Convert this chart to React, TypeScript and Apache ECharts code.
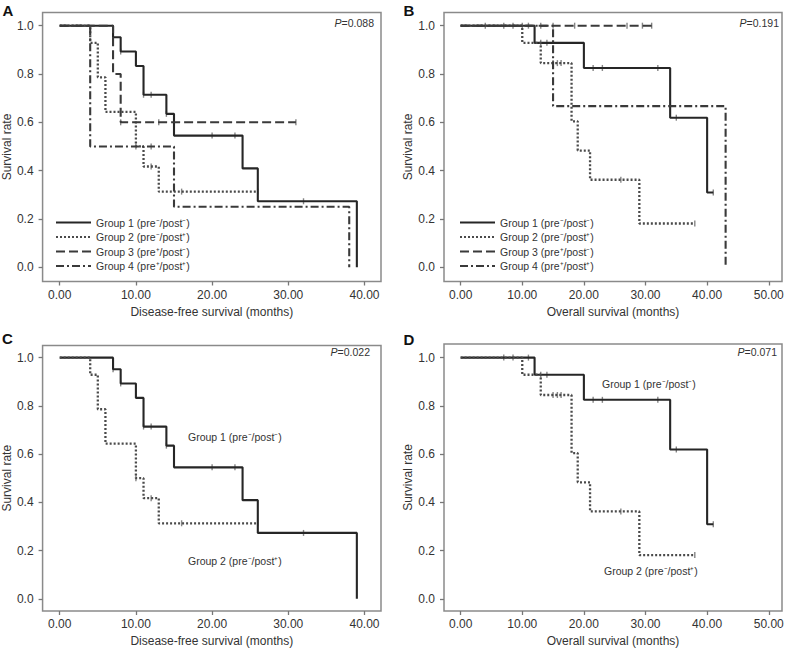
import React, { useEffect, useRef } from "react";
import * as echarts from "echarts";

// ---------- Data ----------
// Disease-free survival (panels A and C)
const dfsG1Times = [0, 7, 8, 10, 11, 14, 15, 24, 26, 39];
const dfsG1Surv = [1, 0.952, 0.893, 0.833, 0.714, 0.635, 0.545, 0.409, 0.273, 0];
const dfsG1CensorTimes = [7, 8, 11, 12, 14, 20, 23, 32];
const dfsG1CensorSurv = [0.952, 0.893, 0.714, 0.714, 0.635, 0.545, 0.545, 0.273];

const dfsG2Times = [0, 4, 5, 6, 10, 11, 13, 26];
const dfsG2Surv = [1, 0.929, 0.786, 0.643, 0.5, 0.417, 0.313, 0.313];
const dfsG2CensorTimes = [10, 12, 16, 26];
const dfsG2CensorSurv = [0.5, 0.417, 0.313, 0.313];

const dfsG3Times = [0, 7, 8, 31];
const dfsG3Surv = [1, 0.8, 0.6, 0.6];
const dfsG3CensorTimes = [8, 13, 31];
const dfsG3CensorSurv = [0.6, 0.6, 0.6];

const dfsG4Times = [0, 4, 15, 38];
const dfsG4Surv = [1, 0.5, 0.25, 0];
const dfsG4CensorTimes = [12];
const dfsG4CensorSurv = [0.5];

// Overall survival (panels B and D)
const osG1Times = [0, 12, 20, 34, 40, 41];
const osG1Surv = [1, 0.929, 0.825, 0.619, 0.309, 0.309];
const osG1CensorTimes = [7, 8.5, 11, 13, 14, 21.5, 23, 32, 35, 41];
const osG1CensorSurv = [1, 1, 1, 0.929, 0.929, 0.825, 0.825, 0.825, 0.619, 0.309];

const osG2Times = [0, 10, 13, 18, 19, 21, 29, 38];
const osG2Surv = [1, 0.929, 0.845, 0.604, 0.483, 0.362, 0.181, 0.181];
const osG2CensorTimes = [15, 15.7, 16.3, 26, 38];
const osG2CensorSurv = [0.845, 0.845, 0.845, 0.362, 0.181];

const osG3Times = [0, 31];
const osG3Surv = [1, 1];
const osG3CensorTimes = [4, 10, 13, 15, 18.5, 27, 29.5, 31];
const osG3CensorSurv = [1, 1, 1, 1, 1, 1, 1, 1];

const osG4Times = [0, 15, 43];
const osG4Surv = [1, 0.667, 0];

const groupNames = [
  "Group 1 (pre\u207B/post\u207B)",
  "Group 2 (pre\u207B/post\u207A)",
  "Group 3 (pre\u207A/post\u207B)",
  "Group 4 (pre\u207A/post\u207A)",
];

const dfsTicks = [0, 10, 20, 30, 40];
const osTicks = [0, 10, 20, 30, 40, 50];
const yTicks = [0, 0.2, 0.4, 0.6, 0.8, 1.0];

const pValues = ["0.088", "0.191", "0.022", "0.071"];
const panelLetters = ["A", "B", "C", "D"];

// ---------- Styling ----------
const FONT = "Liberation Sans, Arial, Helvetica, sans-serif";
const TEXT = "#333";
const lineStyles = [
  { color: "#262626", width: 2.1, type: "solid" as any },
  { color: "#4a4a4a", width: 2.3, type: [2, 2] as any },
  { color: "#3a3a3a", width: 2.1, type: [9, 4] as any },
  { color: "#3a3a3a", width: 2.1, type: [8, 3, 2, 3] as any },
];

const zip = (t: number[], s: number[]) => t.map((v, i) => [v, s[i]]);

export default function App() {
  const ref = useRef<HTMLDivElement>(null);

  useEffect(() => {
    if (!ref.current) return;
    const chart = echarts.init(ref.current, undefined, { renderer: "svg" });

    const grids = [
      { left: 40, top: 12.5, width: 341, height: 269 },
      { left: 444, top: 12.5, width: 338, height: 269 },
      { left: 40, top: 345.5, width: 341, height: 267 },
      { left: 444, top: 344, width: 338, height: 268 },
    ].map((g) => ({
      ...g,
      show: true,
      borderColor: "#8a8a8a",
      borderWidth: 1.5,
      backgroundColor: "transparent",
    }));

    const xRanges = [
      [-2.25, 42.17],
      [-2.7, 52.15],
      [-2.25, 42.17],
      [-2.7, 52.15],
    ];
    const yRanges = [
      [-0.0592, 1.0546],
      [-0.0592, 1.0546],
      [-0.0508, 1.0503],
      [-0.0508, 1.0565],
    ];
    const xNames = [
      "Disease-free survival (months)",
      "Overall survival (months)",
      "Disease-free survival (months)",
      "Overall survival (months)",
    ];

    const xAxis = [0, 1, 2, 3].map((i) => {
      const ticks = i % 2 === 0 ? dfsTicks : osTicks;
      return {
        type: "value",
        gridIndex: i,
        min: xRanges[i][0],
        max: xRanges[i][1],
        axisLine: { show: false, onZero: false },
        splitLine: { show: false },
        axisTick: {
          show: true,
          length: 4,
          customValues: ticks,
          lineStyle: { color: "#777", width: 1.3 },
        },
        axisLabel: {
          customValues: ticks,
          formatter: (v: number) => v.toFixed(2),
          fontSize: 12,
          color: TEXT,
          fontFamily: FONT,
          margin: 7,
        },
        name: xNames[i],
        nameLocation: "middle",
        nameGap: 24,
        nameTextStyle: { fontSize: 12, color: TEXT, fontFamily: FONT },
      };
    });

    const yAxis = [0, 1, 2, 3].map((i) => ({
      type: "value",
      gridIndex: i,
      min: yRanges[i][0],
      max: yRanges[i][1],
      axisLine: { show: false, onZero: false },
      splitLine: { show: false },
      axisTick: {
        show: true,
        length: 4,
        customValues: yTicks,
        lineStyle: { color: "#777", width: 1.3 },
      },
      axisLabel: {
        customValues: yTicks,
        formatter: (v: number) => v.toFixed(1),
        fontSize: 12,
        color: TEXT,
        fontFamily: FONT,
        margin: 9,
      },
      name: "Survival rate",
      nameLocation: "middle",
      nameGap: 29,
      nameTextStyle: { fontSize: 12, color: TEXT, fontFamily: FONT },
    }));

    const series: any[] = [];
    const addCurve = (
      panel: number,
      g: number,
      t: number[],
      s: number[],
      ct?: number[],
      cs?: number[]
    ) => {
      series.push({
        type: "line",
        name: groupNames[g],
        xAxisIndex: panel,
        yAxisIndex: panel,
        step: "end",
        symbol: "none",
        data: zip(t, s),
        lineStyle: lineStyles[g],
        itemStyle: { color: lineStyles[g].color },
        silent: true,
      });
      if (ct && cs) {
        series.push({
          type: "scatter",
          name: `censor-${panel}-${g}`,
          xAxisIndex: panel,
          yAxisIndex: panel,
          symbol: "rect",
          symbolSize: [1.4, 6],
          data: zip(ct, cs),
          itemStyle: { color: "#666" },
          silent: true,
        });
      }
    };

    // Panel A
    addCurve(0, 0, dfsG1Times, dfsG1Surv, dfsG1CensorTimes, dfsG1CensorSurv);
    addCurve(0, 1, dfsG2Times, dfsG2Surv, dfsG2CensorTimes, dfsG2CensorSurv);
    addCurve(0, 2, dfsG3Times, dfsG3Surv, dfsG3CensorTimes, dfsG3CensorSurv);
    addCurve(0, 3, dfsG4Times, dfsG4Surv, dfsG4CensorTimes, dfsG4CensorSurv);
    // Panel B
    addCurve(1, 0, osG1Times, osG1Surv, osG1CensorTimes, osG1CensorSurv);
    addCurve(1, 1, osG2Times, osG2Surv, osG2CensorTimes, osG2CensorSurv);
    addCurve(1, 2, osG3Times, osG3Surv, osG3CensorTimes, osG3CensorSurv);
    addCurve(1, 3, osG4Times, osG4Surv);
    // Panel C
    addCurve(2, 0, dfsG1Times, dfsG1Surv, dfsG1CensorTimes, dfsG1CensorSurv);
    addCurve(2, 1, dfsG2Times, dfsG2Surv, dfsG2CensorTimes, dfsG2CensorSurv);
    // Panel D
    addCurve(3, 0, osG1Times, osG1Surv, osG1CensorTimes, osG1CensorSurv);
    addCurve(3, 1, osG2Times, osG2Surv, osG2CensorTimes, osG2CensorSurv);

    const legendBase = {
      data: groupNames,
      orient: "vertical",
      itemWidth: 35,
      itemHeight: 10,
      itemGap: 3.5,
      selectedMode: false,
      itemStyle: { opacity: 0 },
      textStyle: { fontSize: 10.5, color: TEXT, fontFamily: FONT, lineHeight: 10, padding: [0, 0, 0, 0] },
      padding: 0,
    };

    const pPos = [
      [374, 22.5],
      [779, 22.5],
      [370, 352],
      [777, 352],
    ];
    const letterPos = [
      [2.5, 10],
      [403.5, 10],
      [2, 338.5],
      [403.5, 339.5],
    ];

    const graphic: any[] = [];
    pValues.forEach((p, i) => {
      graphic.push({
        type: "text",
        x: pPos[i][0],
        y: pPos[i][1],
        style: {
          text: `{i|P}=${p}`,
          fontSize: 10.5,
          fontFamily: FONT,
          fill: TEXT,
          align: "right",
          verticalAlign: "middle",
          rich: {
            i: { fontStyle: "italic", fontSize: 10.5, fontFamily: FONT, fill: TEXT },
          },
        },
        silent: true,
      });
    });
    panelLetters.forEach((l, i) => {
      graphic.push({
        type: "text",
        x: letterPos[i][0],
        y: letterPos[i][1],
        style: {
          text: l,
          fontSize: 15,
          fontWeight: "bold",
          fontFamily: FONT,
          fill: "#111",
          align: "left",
          verticalAlign: "middle",
        },
        silent: true,
      });
    });
    const labelPos = [
      [188, 437, 0],
      [188, 561, 1],
      [602, 384, 0],
      [604, 571, 1],
    ];
    labelPos.forEach(([x, y, g]) => {
      graphic.push({
        type: "text",
        x,
        y,
        style: {
          text: groupNames[g],
          fontSize: 10.5,
          fontFamily: FONT,
          fill: TEXT,
          align: "left",
          verticalAlign: "middle",
        },
        silent: true,
      });
    });

    chart.setOption({
      animation: false,
      backgroundColor: "#fff",
      grid: grids,
      xAxis,
      yAxis,
      series,
      legend: [
        { ...legendBase, left: 55, top: 217 },
        { ...legendBase, left: 459, top: 217 },
      ],
      graphic,
    });

    return () => chart.dispose();
  }, []);

  return (
    <div
      ref={ref}
      style={{ position: "fixed", left: 0, top: 0, width: 788, height: 648 }}
    />
  );
}
